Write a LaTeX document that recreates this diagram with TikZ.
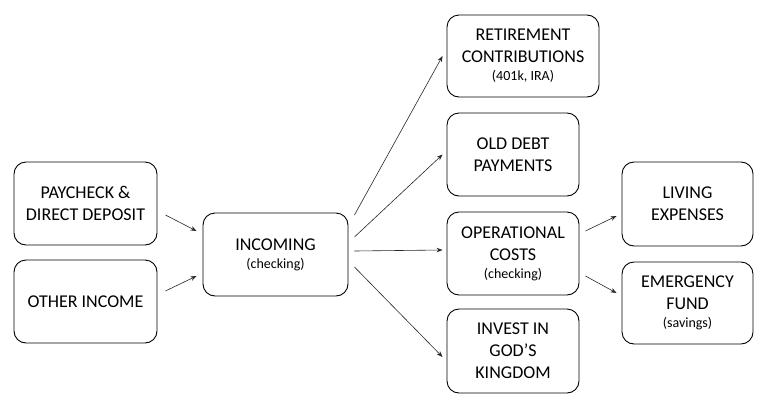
\documentclass[tikz,border=0pt]{standalone}
\usepackage{fontspec}
\setmainfont{Carlito}
\usepackage{xcolor}
\usetikzlibrary{arrows.meta}

\newcommand{\boxsize}{\fontsize{18}{22}\selectfont}
\newcommand{\subsize}{\fontsize{14}{17}\selectfont}

\begin{document}
\begin{tikzpicture}[
  x=1pt, y=-1pt,
  >=Stealth,
  stepbox/.style={draw=black, line width=0.9pt, rounded corners=12pt, align=center,
    inner sep=0pt, font=\boxsize, text=black},
  flow/.style={->, line width=0.6pt, black!85, arrows={-Stealth[length=6pt, width=4.5pt]}}
]

\useasboundingbox (0,0) rectangle (770,410);

% Einnahmen
\node[stepbox, minimum width=143pt, minimum height=83pt] (paycheck) at (85.5, 203.5) {PAYCHECK \&\\DIRECT DEPOSIT};
\node[stepbox, minimum width=143pt, minimum height=83pt] (other) at (85.5, 301.5) {OTHER INCOME};

% Girokonto
\node[stepbox, minimum width=145pt, minimum height=83pt] (incoming) at (275.5, 254.5) {INCOMING\\[-4pt]{\subsize (checking)}};

% Verteilung
\node[stepbox, minimum width=152pt, minimum height=82pt] (retire) at (523, 56) {RETIREMENT\\CONTRIBUTIONS\\[-4pt]{\subsize (401k, IRA)}};
\node[stepbox, minimum width=132pt, minimum height=83pt] (debt) at (513, 154.5) {OLD DEBT\\PAYMENTS};
\node[stepbox, minimum width=132pt, minimum height=83pt] (operate) at (513, 253.5) {OPERATIONAL\\COSTS\\[-4pt]{\subsize (checking)}};
\node[stepbox, minimum width=132pt, minimum height=84pt] (invest) at (513, 351) {INVEST IN\\GOD’S\\KINGDOM};

% Betriebskosten
\node[stepbox, minimum width=131pt, minimum height=84pt] (living) at (687.5, 204) {LIVING\\EXPENSES};
\node[stepbox, minimum width=131pt, minimum height=82pt] (emergency) at (687.5, 303) {EMERGENCY\\FUND\\[-4pt]{\subsize (savings)}};

% Pfeile
\draw[flow] ([xshift=8pt, yshift=-11.5pt]paycheck.east) -- ([xshift=-6pt, yshift=23.5pt]incoming.west);
\draw[flow] ([xshift=8pt, yshift=10.5pt]other.east) -- ([xshift=-6pt, yshift=-21.5pt]incoming.west);

\draw[flow] ([xshift=6pt, yshift=39.5pt]incoming.east) -- ([xshift=-4pt]retire.west);
\draw[flow] ([xshift=6pt, yshift=17.5pt]incoming.east) -- ([xshift=-4pt]debt.west);
\draw[flow] ([xshift=6pt, yshift=3.5pt]incoming.east) -- ([xshift=-4pt, yshift=3.5pt]operate.west);
\draw[flow] ([xshift=6pt, yshift=-12.5pt]incoming.east) -- ([xshift=-4pt, yshift=-6pt]invest.west);

\draw[flow] ([xshift=6pt, yshift=22.5pt]operate.east) -- ([xshift=-5pt, yshift=-12pt]living.west);
\draw[flow] ([xshift=6pt, yshift=-22.5pt]operate.east) -- ([xshift=-5pt, yshift=10pt]emergency.west);

\end{tikzpicture}
\end{document}
